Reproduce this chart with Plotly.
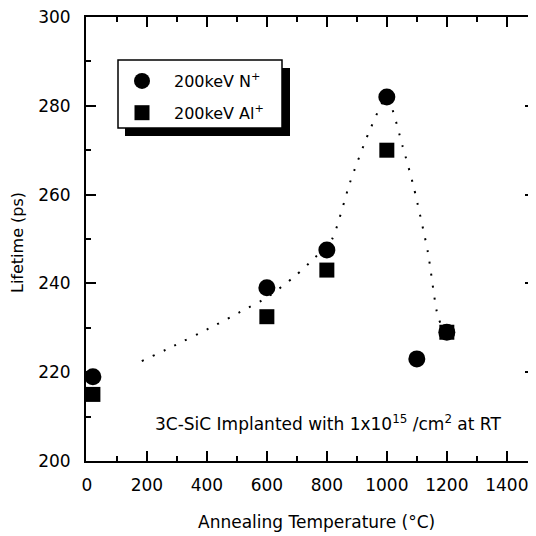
import plotly.graph_objects as go

# 200 keV N+ implanted 3C-SiC
temp_n = [20, 600, 800, 1000, 1100, 1200]
life_n = [219, 239, 247.5, 282, 223, 229]

# 200 keV Al+ implanted 3C-SiC
temp_al = [20, 600, 800, 1000, 1200]
life_al = [215, 232.5, 243, 270, 229]

# dotted guide-to-the-eye curve
guide_x = [183, 280, 420, 520, 600, 693, 760, 817, 877, 940, 1000, 1053, 1090, 1137, 1170, 1200]
guide_y = [222.5, 225.6, 230.3, 233.9, 236.8, 241.6, 245.8, 249.9, 262.7, 274, 282, 270.8, 261.6, 247, 232.6, 228]

x_ticks = [0, 200, 400, 600, 800, 1000, 1200, 1400]
y_ticks = [200, 220, 240, 260, 280, 300]

FONT = "DejaVu Sans"

fig = go.Figure()

fig.add_trace(go.Scatter(x=guide_x, y=guide_y, mode="lines", showlegend=False,
                         line=dict(color="black", width=2, dash="2px,10px", shape="spline", smoothing=0.6),
                         hoverinfo="skip"))

fig.add_trace(go.Scatter(x=temp_n, y=life_n, mode="markers", name="200keV N<sup>+</sup>",
                         legendgroup="n",
                         marker=dict(symbol="circle", size=17, color="black")))
fig.add_trace(go.Scatter(x=temp_al, y=life_al, mode="markers", name="200keV Al<sup>+</sup>",
                         legendgroup="al",
                         marker=dict(symbol="square", size=15, color="black")))

# plot area in page pixels: x 86..535, y 17..461 (page body adds an 8px margin)
def px(x):
    return (x - 86) / 449.0

def py(y):
    return (461.0 - y) / 444.0

# legend box with drop shadow
fig.add_shape(type="rect", xref="paper", yref="paper",
              x0=px(125), x1=px(290), y0=py(136), y1=py(68),
              fillcolor="black", line=dict(width=0), layer="above")
fig.add_shape(type="rect", xref="paper", yref="paper",
              x0=px(118), x1=px(282), y0=py(128), y1=py(60),
              fillcolor="white", line=dict(color="black", width=1.5), layer="above")

fig.add_annotation(text="3C-SiC Implanted with 1x10<sup>15</sup> /cm<sup>2</sup> at RT",
                   xref="paper", yref="paper", x=px(328), y=py(423),
                   xanchor="center", yanchor="middle",
                   showarrow=False, font=dict(family=FONT, size=17, color="black"))

# axis titles
fig.add_annotation(text="Annealing Temperature (°C)", xref="paper", yref="paper",
                   x=px(316), y=py(522), xanchor="center", yanchor="middle", showarrow=False,
                   font=dict(family=FONT, size=17, color="black"))
fig.add_annotation(text="Lifetime (ps)", xref="paper", yref="paper", textangle=-90,
                   x=px(17), y=py(243), xanchor="center", yanchor="middle", showarrow=False,
                   font=dict(family=FONT, size=16, color="black"))

axis_common = dict(showgrid=False, zeroline=False, showline=True, linecolor="black", linewidth=2,
                   mirror="ticks", ticks="inside", ticklen=10, tickwidth=2, tickcolor="black",
                   automargin=False, ticklabeloverflow="allow",
                   tickfont=dict(family=FONT, size=17, color="black"))

fig.update_xaxes(range=[-3, 1494], tickvals=x_ticks, ticklabelstandoff=8,
                 minor=dict(dtick=100, tick0=0, ticks="inside", ticklen=5, tickwidth=2, tickcolor="black"),
                 **axis_common)
fig.update_yaxes(range=[200, 300], tickvals=y_ticks, ticklabelstandoff=10,
                 minor=dict(dtick=10, tick0=200, ticks="inside", ticklen=5, tickwidth=2, tickcolor="black"),
                 **axis_common)

fig.update_layout(
    width=528, height=528,
    margin=dict(l=78, r=1, t=9, b=75),
    paper_bgcolor="white", plot_bgcolor="white",
    font=dict(family=FONT, color="black"),
    legend=dict(x=px(110), y=py(64), xanchor="left", yanchor="top",
                bgcolor="rgba(0,0,0,0)", borderwidth=0, itemwidth=54,
                font=dict(family=FONT, size=16, color="black"),
                tracegroupgap=8, traceorder="grouped"),
)

fig.write_html("out.html")
